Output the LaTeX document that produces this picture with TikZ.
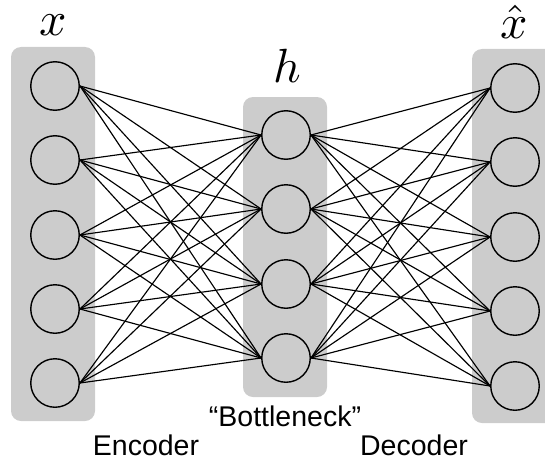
\documentclass[tikz,border=0pt]{standalone}
\usepackage{fontspec}
\setmainfont{Liberation Sans}
\usepackage{amsmath}
\usepackage{tikz}

\tikzset{
	unit/.style={shape=circle,draw=black,line width=1.4pt,minimum size=48.5pt,inner sep=0pt},
	layer/.style={fill=gray!40,rounded corners=10pt},
	link/.style={-,line width=1.15pt},
	varname/.style={scale=4.8,anchor=base,inner sep=0pt},
	caption/.style={font=\fontsize{28.5}{31}\selectfont,anchor=base,inner sep=0pt}
}

\begin{document}
\begin{tikzpicture}[x=1pt,y=-1pt]
	\clip (0,0) rectangle (545,460);

	% grey layer boxes
	\fill[layer] (11,47) rectangle (95,421);
	\fill[layer] (243,97) rectangle (327,397);
	\fill[layer] (472,49) rectangle (556,423);

	\node[unit] (x1) at (55, 86)  {};
	\node[unit] (x2) at (55, 160) {};
	\node[unit] (x3) at (55, 235) {};
	\node[unit] (x4) at (55, 309) {};
	\node[unit] (x5) at (55, 383) {};

	\node[unit] (h1) at (286, 135) {};
	\node[unit] (h2) at (286, 209) {};
	\node[unit] (h3) at (286, 284) {};
	\node[unit] (h4) at (286, 358) {};

	\node[unit] (y1) at (515, 88)  {};
	\node[unit] (y2) at (515, 162) {};
	\node[unit] (y3) at (515, 237) {};
	\node[unit] (y4) at (515, 311) {};
	\node[unit] (y5) at (515, 386) {};

	\node[varname] (xlab) at (53, 35)  {$x$};
	\node[varname] (hlab) at (287, 82) {$h$};
	\node[varname] (ylab) at (514, 38) {$\hat{x}$};

	\node[caption] (bneck) at (285, 426) {“Bottleneck”};
	\node[caption] (enc) at (146, 455) {Encoder};
	\node[caption] (dec) at (414, 455) {Decoder};

	% encoder
	\path[link] (x1.east) edge (h1.west) (x1.east) edge (h2.west) (x1.east) edge (h3.west) (x1.east) edge (h4.west);
	\path[link] (x2.east) edge (h1.west) (x2.east) edge (h2.west) (x2.east) edge (h3.west) (x2.east) edge (h4.west);
	\path[link] (x3.east) edge (h1.west) (x3.east) edge (h2.west) (x3.east) edge (h3.west) (x3.east) edge (h4.west);
	\path[link] (x4.east) edge (h1.west) (x4.east) edge (h2.west) (x4.east) edge (h3.west) (x4.east) edge (h4.west);
	\path[link] (x5.east) edge (h1.west) (x5.east) edge (h2.west) (x5.east) edge (h3.west) (x5.east) edge (h4.west);

	% decoder
	\path[link] (h1.east) edge (y1.west) (h1.east) edge (y2.west) (h1.east) edge (y3.west) (h1.east) edge (y4.west) (h1.east) edge (y5.west);
	\path[link] (h2.east) edge (y1.west) (h2.east) edge (y2.west) (h2.east) edge (y3.west) (h2.east) edge (y4.west) (h2.east) edge (y5.west);
	\path[link] (h3.east) edge (y1.west) (h3.east) edge (y2.west) (h3.east) edge (y3.west) (h3.east) edge (y4.west) (h3.east) edge (y5.west);
	\path[link] (h4.east) edge (y1.west) (h4.east) edge (y2.west) (h4.east) edge (y3.west) (h4.east) edge (y4.west) (h4.east) edge (y5.west);

\end{tikzpicture}
\end{document}
